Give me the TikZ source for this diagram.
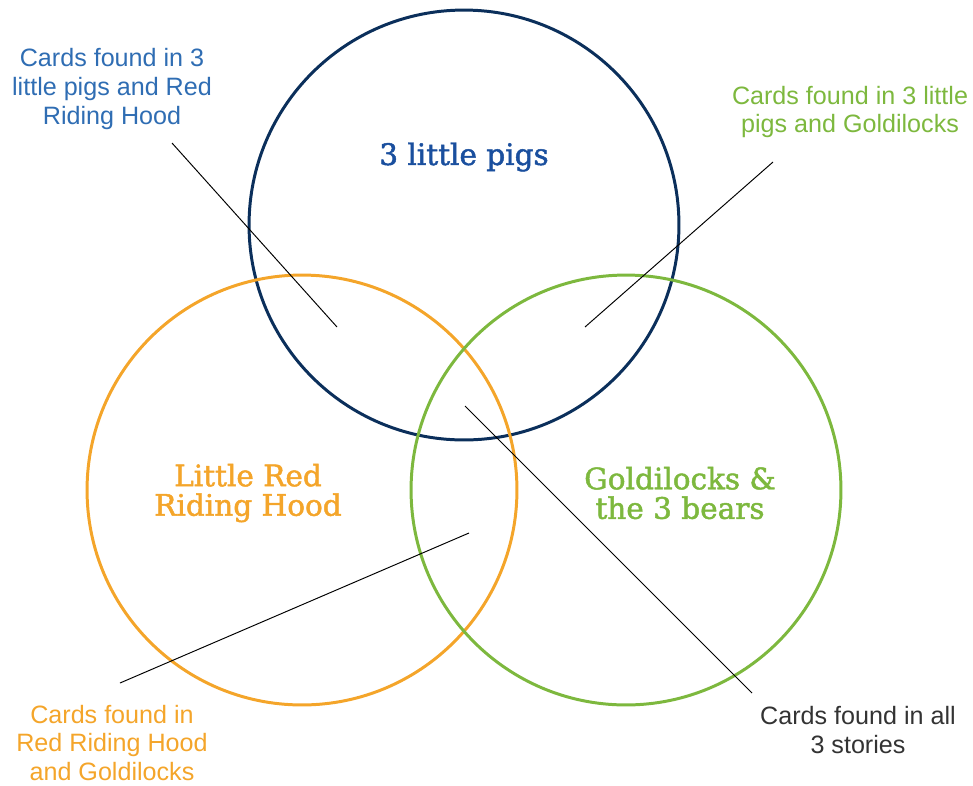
\documentclass[tikz,border=0pt]{standalone}
\usepackage{fontspec}
\setmainfont{Liberation Sans}
\newfontfamily\slabfont[FakeBold=1.6]{DejaVu Serif}
\usetikzlibrary{positioning}
\definecolor{pigblue}{HTML}{0B2F5B}
\definecolor{pigtext}{HTML}{1A4F9E}
\definecolor{noteblue}{HTML}{2F6DB3}
\definecolor{hoodorange}{HTML}{F4A52A}
\definecolor{bearsgreen}{HTML}{7DB83E}
\definecolor{notegray}{HTML}{333333}
\tikzset{
  story/.style={draw,line width=1.7pt},
  title/.style={font=\slabfont\fontsize{16.8}{16.8}\selectfont,align=center},
  note/.style={font=\fontsize{14.3}{16.4}\selectfont,align=center},
  pointer/.style={draw=black,line width=.55pt}
}
\begin{document}
\begin{tikzpicture}[x=.02cm,y=-.02cm]
      \useasboundingbox (0,0) rectangle (973,785);
      % the three stories
      \draw[story,pigblue] (464,225) circle[radius=4.3cm];
      \draw[story,hoodorange] (302,490) circle[radius=4.3cm];
      \draw[story,bearsgreen] (626,490) circle[radius=4.3cm];
      \node[title,pigtext] (pigs) at (464,157) {3 little pigs};
      \node[title,hoodorange] (hood) at (248,493) {Little Red\\Riding Hood};
      \node[title,bearsgreen] (bears) at (680,493) {Goldilocks \&\\the 3 bears};
      % notes
      \node[note,noteblue] (pigshood) at (112,89)
      {Cards found in 3\\little pigs and Red\\Riding Hood};
      \node[note,bearsgreen] (pigsbears) at (850,112)
      {Cards found in 3 little\\pigs and Goldilocks};
      \node[note,hoodorange] (hoodbears) at (112,743)
      {Cards found in\\Red Riding Hood\\and Goldilocks};
      \node[note,notegray] (allthree) at (858,730)
      {Cards found in all\\3 stories};
      % pointers
      \coordinate (a1) at (172,143); \coordinate (a2) at (337,327);
      \coordinate (b1) at (773,162); \coordinate (b2) at (585,327);
      \coordinate (c1) at (120,683); \coordinate (c2) at (469,533);
      \coordinate (d1) at (752,693); \coordinate (d2) at (465,406);
      \draw[pointer] (a1) -- (a2); \draw[pointer] (b1) -- (b2);
      \draw[pointer] (c1) -- (c2); \draw[pointer] (d1) -- (d2);
    \end{tikzpicture}
\end{document}
